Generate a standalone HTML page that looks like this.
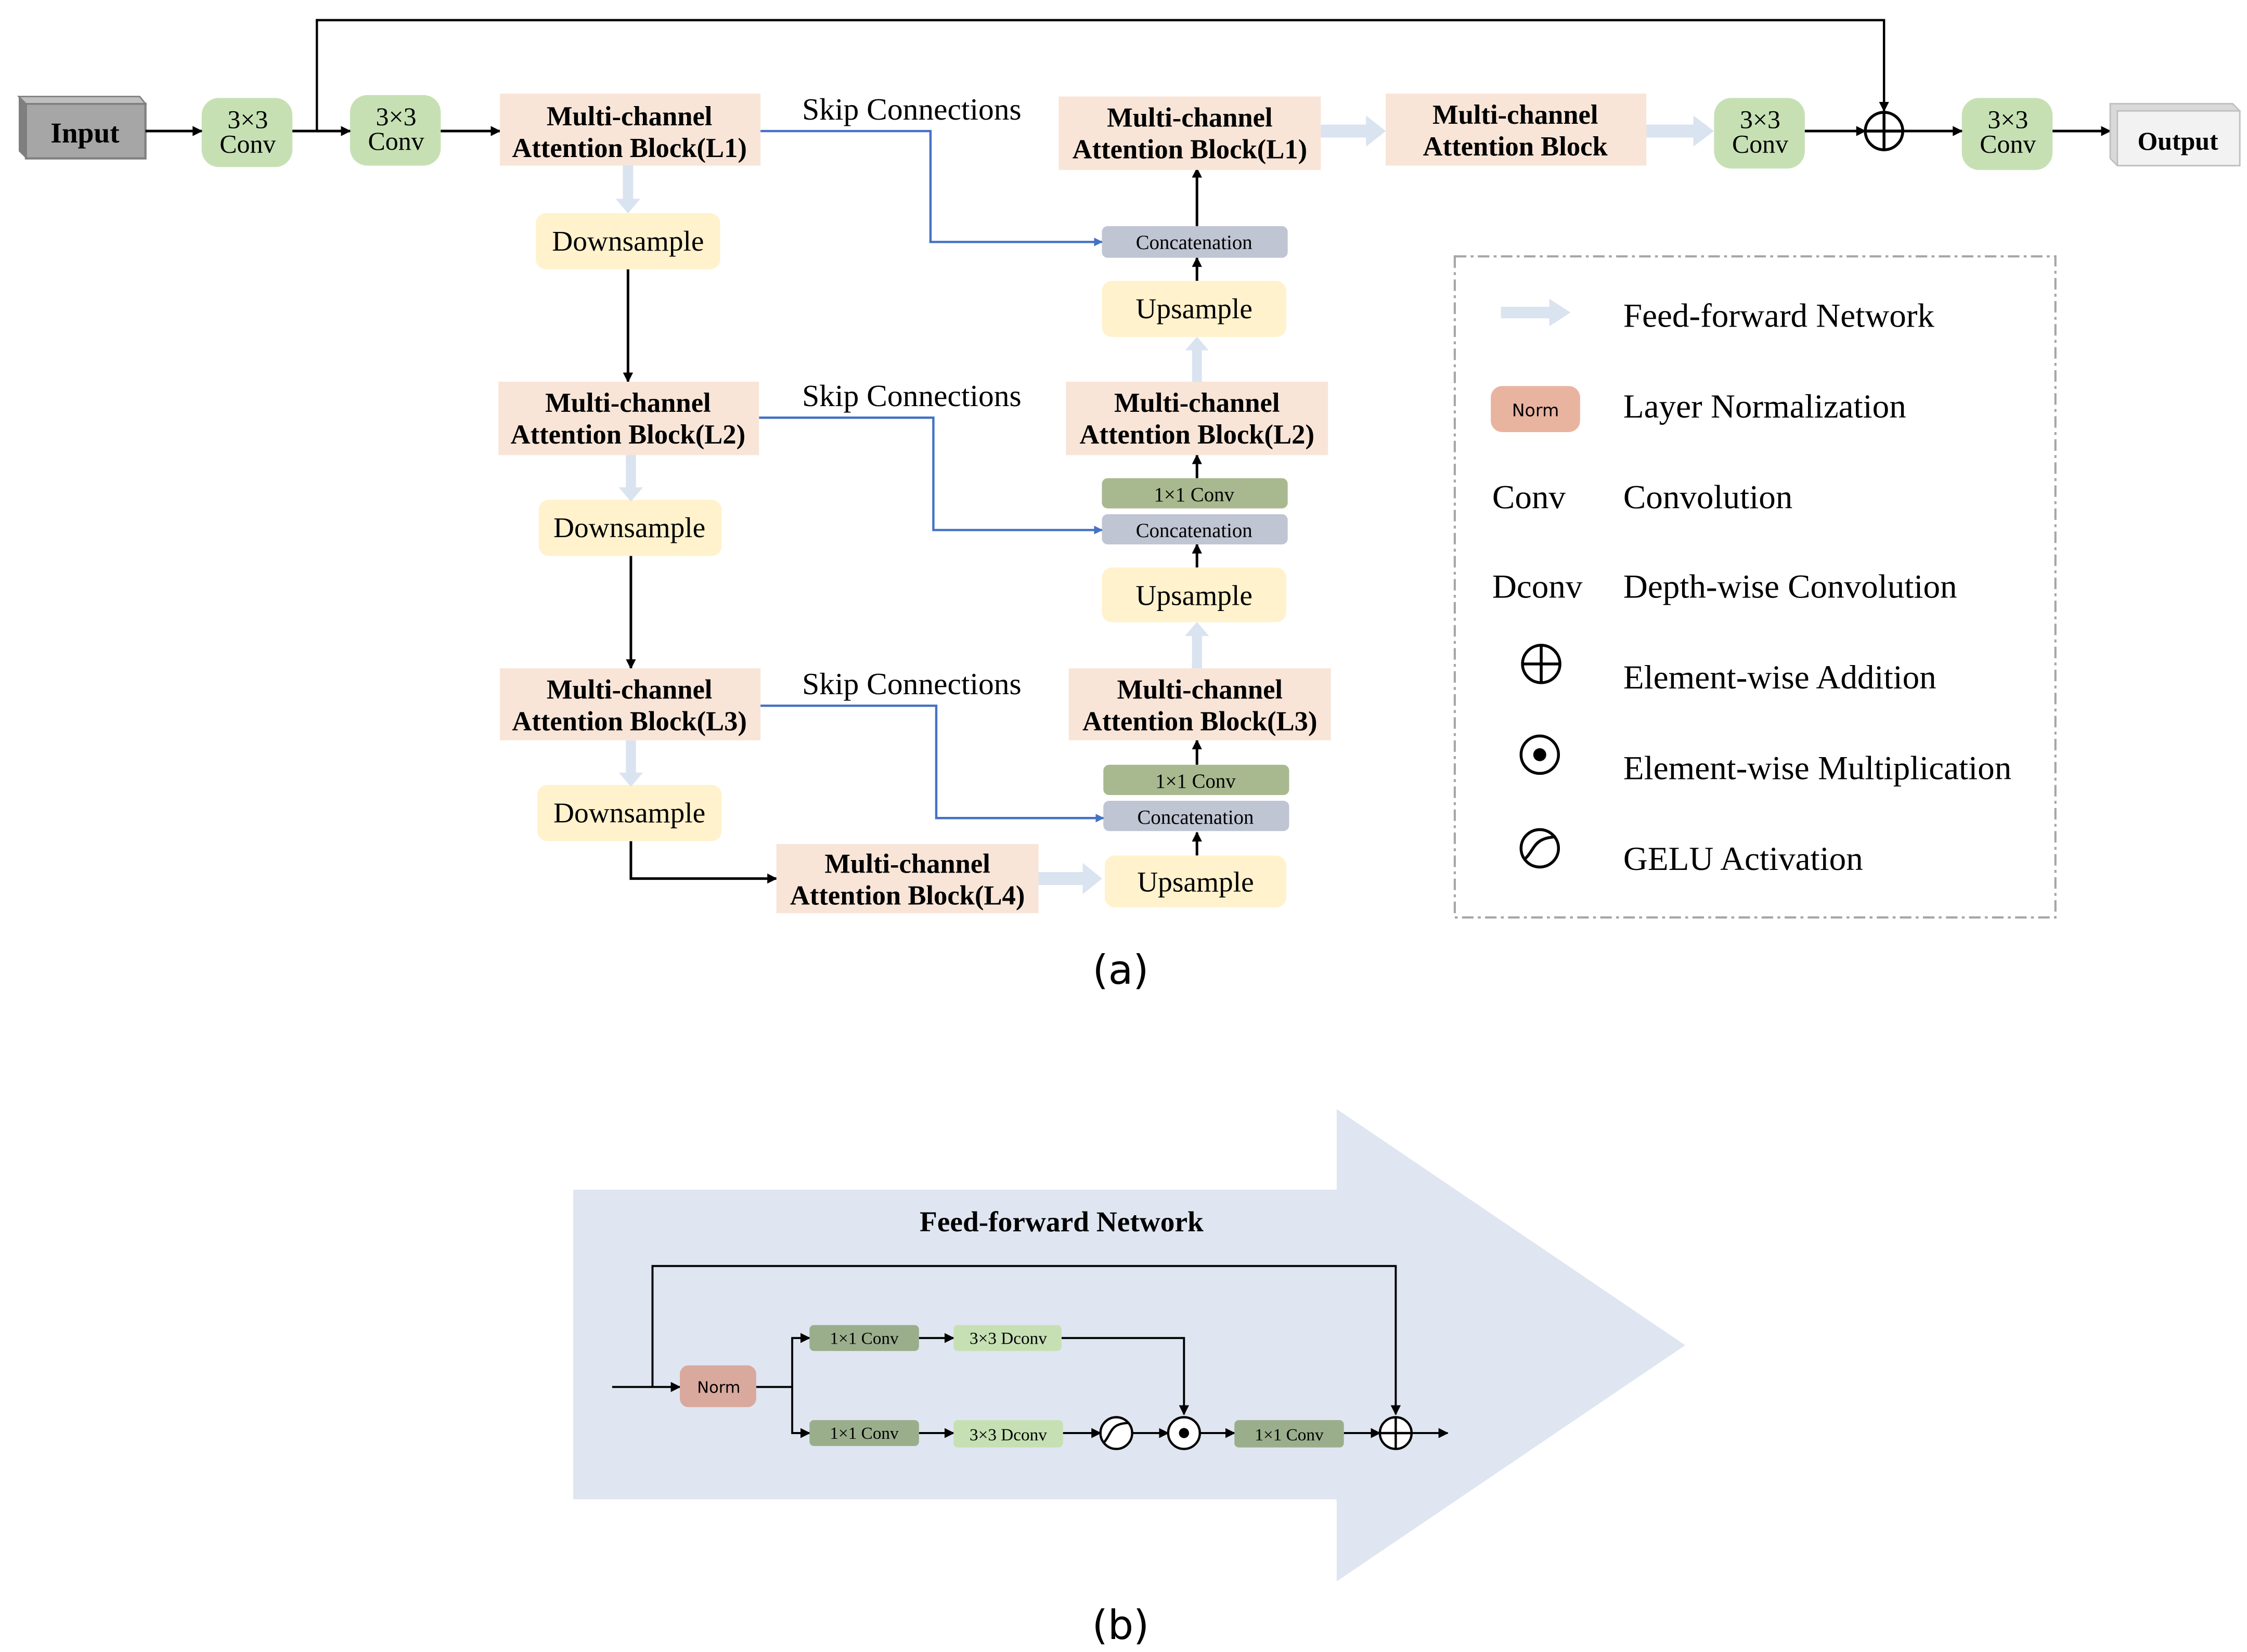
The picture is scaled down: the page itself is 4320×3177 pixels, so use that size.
<!DOCTYPE html>
<html><head><meta charset="utf-8"><style>html,body{margin:0;padding:0;background:#fff}svg{display:block}</style></head>
<body>
<svg xmlns="http://www.w3.org/2000/svg" width="4320" height="3177" viewBox="0 0 1560 1147" preserveAspectRatio="none">
<defs>
<marker id="a" viewBox="0 0 10 10" refX="9" refY="5" markerWidth="7" markerHeight="7" markerUnits="userSpaceOnUse" orient="auto"><path d="M0,0L10,5L0,10z" fill="#000"/></marker>
<marker id="ab" viewBox="0 0 10 10" refX="9" refY="5" markerWidth="6" markerHeight="6" markerUnits="userSpaceOnUse" orient="auto"><path d="M0,0L10,5L0,10z" fill="#4472c4"/></marker>
<g id="ffh"><path d="M0,-5H32V-12L46,0L32,12V5H0z" fill="#dae3f0"/></g>
</defs>
<rect width="1560" height="1147" fill="#fff"/>
<g font-family="Liberation Serif, serif" text-anchor="middle">
<path d="M220,91V14H1308V77" fill="none" stroke="#000" stroke-width="1.6" marker-end="url(#a)"/>
<path d="M13,67H97L101,72V110H18L13,105z" fill="#7f7f7f"/>
<rect x="18" y="72" width="83" height="38" fill="#a6a6a6" stroke="#7f7f7f" stroke-width="1.5"/>
<path d="M13,67H97L101,72H18z" fill="#bfbfbf" stroke="#7f7f7f"/>
<text x="59" y="99" font-size="20" font-weight="bold">Input</text>
<g fill="#c6e0b4"><rect x="140" y="68" width="63" height="48" rx="12"/><rect x="243" y="66" width="63" height="49" rx="12"/><rect x="1190" y="68" width="63" height="49" rx="12"/><rect x="1362" y="68" width="63" height="50" rx="12"/></g>
<g font-size="18"><text x="172" y="89">3×3</text><text x="172" y="106">Conv</text>
<text x="275" y="87">3×3</text><text x="275" y="104">Conv</text>
<text x="1222" y="89">3×3</text><text x="1222" y="106">Conv</text>
<text x="1394" y="89">3×3</text><text x="1394" y="106">Conv</text></g>
<g stroke="#000" stroke-width="1.8" fill="none" marker-end="url(#a)">
<path d="M101,91H140"/><path d="M203,91H243"/><path d="M306,91H347"/><path d="M1253,91H1295"/><path d="M1321,91H1362"/><path d="M1425,91H1465"/>
<path d="M436,187V265"/><path d="M438,386V464"/><path d="M438,584V610H539"/>
<path d="M831,594V578"/><path d="M831,531V514"/><path d="M831,394V378"/><path d="M831,332V316"/><path d="M831,195V179"/><path d="M831,157V117"/>
</g>
<circle cx="1308" cy="91" r="13" fill="#fff" stroke="#000" stroke-width="2"/><path d="M1295,91H1321M1308,78V104" stroke="#000" stroke-width="2"/>
<path d="M1465,72H1550L1555,77V115H1470L1465,110z" fill="#d9d9d9" stroke="#bfbfbf"/>
<rect x="1470" y="77" width="85" height="38" fill="#f2f2f2" stroke="#bfbfbf"/>
<text x="1512" y="104" font-size="18" font-weight="bold">Output</text>
<g fill="#f8e5d8"><rect x="347" y="65" width="181" height="50"/><rect x="346" y="265" width="181" height="51"/><rect x="347" y="464" width="181" height="50"/><rect x="539" y="586" width="182" height="48"/><rect x="742" y="464" width="182" height="50"/><rect x="740" y="265" width="182" height="51"/><rect x="735" y="67" width="182" height="51"/><rect x="962" y="65" width="181" height="50"/></g>
<g font-size="19" font-weight="bold">
<text x="437" y="87">Multi-channel</text><text x="437" y="109">Attention Block(L1)</text>
<text x="436" y="286">Multi-channel</text><text x="436" y="308">Attention Block(L2)</text>
<text x="437" y="485">Multi-channel</text><text x="437" y="507">Attention Block(L3)</text>
<text x="630" y="606">Multi-channel</text><text x="630" y="628">Attention Block(L4)</text>
<text x="833" y="485">Multi-channel</text><text x="833" y="507">Attention Block(L3)</text>
<text x="831" y="286">Multi-channel</text><text x="831" y="308">Attention Block(L2)</text>
<text x="826" y="88">Multi-channel</text><text x="826" y="110">Attention Block(L1)</text>
<text x="1052" y="86">Multi-channel</text><text x="1052" y="108">Attention Block</text>
</g>
<g fill="#fff2cc"><rect x="372" y="148" width="128" height="39" rx="7"/><rect x="374" y="347" width="127" height="39" rx="7"/><rect x="373" y="545" width="128" height="39" rx="7"/><rect x="767" y="594" width="126" height="36" rx="7"/><rect x="765" y="394" width="128" height="38" rx="7"/><rect x="765" y="195" width="128" height="39" rx="7"/></g>
<g font-size="20"><text x="436" y="174">Downsample</text><text x="437" y="373">Downsample</text><text x="437" y="571">Downsample</text><text x="830" y="619">Upsample</text><text x="829" y="420">Upsample</text><text x="829" y="221">Upsample</text></g>
<g fill="#bfc5d3"><rect x="765" y="157" width="129" height="22" rx="4"/><rect x="765" y="357" width="129" height="21" rx="4"/><rect x="766" y="556" width="129" height="21" rx="4"/></g>
<g fill="#a9b98f"><rect x="765" y="332" width="129" height="21" rx="4"/><rect x="766" y="531" width="129" height="21" rx="4"/></g>
<g font-size="14"><text x="829" y="173">Concatenation</text><text x="829" y="373">Concatenation</text><text x="830" y="572">Concatenation</text><text x="829" y="348">1×1 Conv</text><text x="830" y="547">1×1 Conv</text></g>
<use href="#ffh" transform="translate(436,115) rotate(90) scale(0.72)"/>
<use href="#ffh" transform="translate(438,316) rotate(90) scale(0.7)"/>
<use href="#ffh" transform="translate(438,514) rotate(90) scale(0.7)"/>
<use href="#ffh" transform="translate(831,265) rotate(-90) scale(0.68)"/>
<use href="#ffh" transform="translate(831,464) rotate(-90) scale(0.7)"/>
<use href="#ffh" transform="translate(721,610) scale(0.96,0.9)"/>
<use href="#ffh" transform="translate(917,91) scale(0.98,0.9)"/>
<use href="#ffh" transform="translate(1143,91) scale(1.02,0.9)"/>
<g font-size="21.5"><text x="633" y="83">Skip Connections</text><text x="633" y="282">Skip Connections</text><text x="633" y="482">Skip Connections</text></g>
<g stroke="#4472c4" stroke-width="1.6" fill="none" marker-end="url(#ab)">
<path d="M528,91H646V168H765"/><path d="M527,290H648V368H765"/><path d="M528,490H650V568H766"/></g>
<rect x="1010" y="178" width="417" height="459" fill="none" stroke="#a6a6a6" stroke-width="1.5" stroke-dasharray="8,3,2,3"/>
<use href="#ffh" transform="translate(1042,217) scale(1.05,0.8)"/>
<rect x="1035" y="268" width="62" height="32" rx="8" fill="#e8b4a0"/>
<text x="1066" y="289" font-family="DejaVu Sans, sans-serif" font-size="12">Norm</text>
<g font-size="23.5" text-anchor="start"><text x="1036" y="353">Conv</text><text x="1036" y="415">Dconv</text>
<text x="1127" y="227">Feed-forward Network</text><text x="1127" y="290">Layer Normalization</text><text x="1127" y="353">Convolution</text><text x="1127" y="415">Depth-wise Convolution</text><text x="1127" y="478">Element-wise Addition</text><text x="1127" y="541">Element-wise Multiplication</text><text x="1127" y="604">GELU Activation</text></g>
<g stroke="#000" stroke-width="2" fill="none"><circle cx="1070" cy="461" r="13"/><path d="M1057,461H1083M1070,448V474"/><circle cx="1069" cy="524" r="13"/><circle cx="1069" cy="589" r="13"/><path d="M1058,597C1066,590 1064,582 1080,581"/></g>
<circle cx="1069" cy="524" r="4.5" fill="#000"/>
<text x="778" y="683" font-family="DejaVu Sans, sans-serif" font-size="28">(a)</text>
<path d="M398,826H928V770L1170,934L928,1098V1041H398z" fill="#dfe6f1"/>
<text x="737" y="855" font-size="20" font-weight="bold">Feed-forward Network</text>
<g stroke="#000" stroke-width="1.4" fill="none" marker-end="url(#a)">
<path d="M453,963V879H969V982"/><path d="M425,963H472"/><path d="M525,963H550V929H562"/><path d="M550,963V995H562"/>
<path d="M638,929H662"/><path d="M737,929H822V982"/><path d="M638,995H662"/><path d="M738,995H764"/><path d="M786,995H811"/><path d="M833,995H857"/><path d="M933,995H958"/><path d="M980,995H1005"/></g>
<rect x="472" y="948" width="53" height="29" rx="6" fill="#d9a99d"/>
<text x="499" y="967" font-family="DejaVu Sans, sans-serif" font-size="11">Norm</text>
<g fill="#9aae8c"><rect x="562" y="920" width="76" height="18" rx="3"/><rect x="562" y="986" width="76" height="18" rx="3"/><rect x="857" y="986" width="76" height="19" rx="3"/></g>
<g fill="#c6e0b4"><rect x="662" y="920" width="75" height="18" rx="3"/><rect x="662" y="986" width="76" height="19" rx="3"/></g>
<g font-size="12"><text x="600" y="933">1×1 Conv</text><text x="600" y="999">1×1 Conv</text><text x="895" y="1000">1×1 Conv</text><text x="700" y="933">3×3 Dconv</text><text x="700" y="1000">3×3 Dconv</text></g>
<g stroke="#000" stroke-width="1.6" fill="#fff"><circle cx="775" cy="995" r="11"/><circle cx="822" cy="995" r="11"/><circle cx="969" cy="995" r="11"/></g>
<path d="M766,1002C772,996 770,988 784,988M958,995H980M969,984V1006" stroke="#000" stroke-width="1.6" fill="none"/>
<circle cx="822" cy="995" r="3.5" fill="#000"/>
<text x="778" y="1138" font-family="DejaVu Sans, sans-serif" font-size="28">(b)</text>
</g>
</svg>
</body></html>
